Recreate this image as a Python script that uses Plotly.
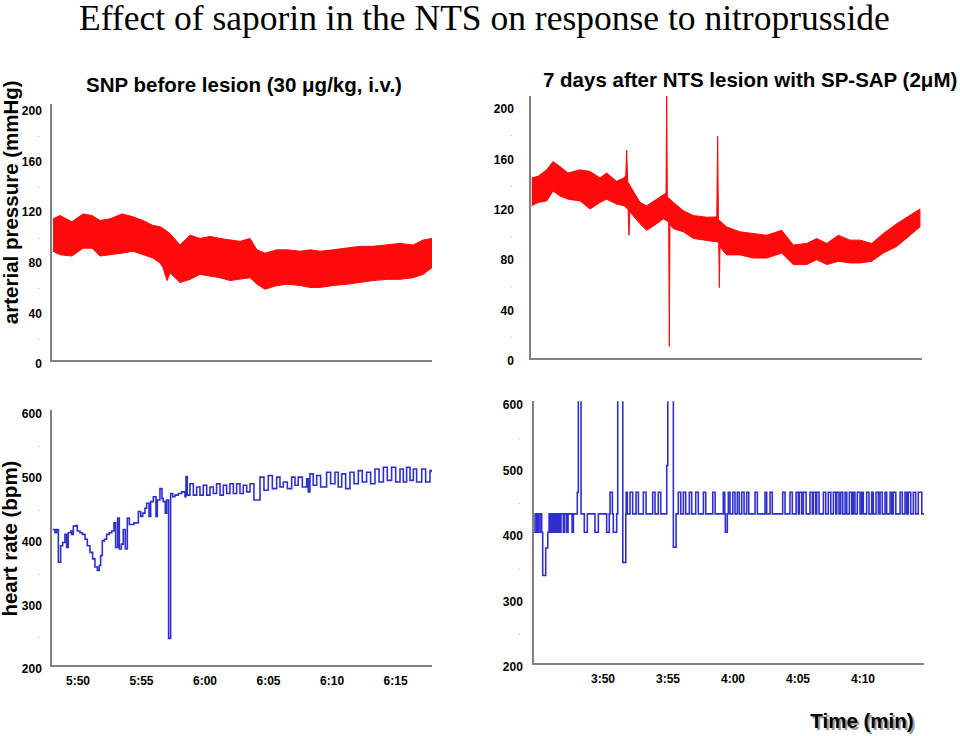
import plotly.graph_objects as go

# ---------------- DATA (time in minutes since 0:00) ----------------
# Arterial pressure before lesion: systolic / diastolic envelope (mmHg)
bp_pre_t = [348.03, 348.58, 349.52, 350.39, 351.10, 351.73, 352.52, 353.46, 354.33, 355.12,
            355.90, 356.46, 356.69, 357.01, 357.24, 358.03, 358.82, 359.60, 360.39, 361.18,
            361.97, 362.75, 363.54, 364.09, 364.72, 365.67, 366.46, 367.48, 368.27, 369.06,
            370.08, 371.18, 372.20, 373.23, 374.33, 375.35, 376.38, 377.16, 377.87]
bp_pre_sys = [111.6, 114.2, 109.3, 115.5, 114.2, 110.3, 111.6, 115.5, 113.2, 110.3,
              106.4, 105.4, 104.0, 101.6, 100.0, 90.9, 98.7, 96.1, 97.7, 96.1,
              94.8, 93.8, 96.1, 87.1, 84.5, 87.1, 87.1, 86.0, 87.1, 86.0,
              87.1, 88.4, 89.9, 89.9, 90.9, 92.2, 90.9, 94.8, 96.1]
bp_pre_dia = [86.0, 83.2, 82.2, 88.4, 88.4, 82.2, 83.2, 84.5, 86.0, 83.2,
              80.6, 76.7, 72.9, 62.8, 69.0, 61.2, 63.8, 67.7, 66.7, 65.1,
              62.8, 63.8, 65.1, 59.9, 56.0, 58.9, 59.9, 58.9, 57.4, 57.4,
              58.9, 59.9, 61.2, 62.8, 63.8, 63.8, 65.1, 67.7, 72.9]

# Arterial pressure 7 days after lesion (mmHg)
bp_post_t_sys = [224.52, 225.00, 225.67, 226.15, 226.69, 227.31, 228.23, 229.00, 229.77, 230.28,
                 231.05, 231.62, 231.75, 231.82, 231.90, 232.31, 232.85, 233.36, 234.13, 234.64,
                 234.85, 234.90, 234.95, 235.41, 236.18, 236.95, 237.98, 238.75, 238.82, 238.88,
                 239.52, 240.54, 241.56, 242.59, 243.75, 244.64, 245.67, 246.44, 247.21, 248.10,
                 249.00, 249.77, 250.67, 251.56, 252.59, 253.62, 254.38]
bp_post_sys = [143.0, 144.2, 149.4, 155.9, 152.0, 146.8, 149.4, 148.1, 143.0, 146.8,
               140.3, 143.0, 145.0, 165.0, 140.0, 132.5, 123.5, 120.9, 126.1, 130.0,
               131.0, 212.0, 128.0, 123.5, 117.0, 113.1, 111.8, 112.0, 175.9, 110.0,
               104.0, 100.2, 98.8, 97.5, 101.4, 89.7, 91.0, 94.9, 91.0, 97.5,
               93.6, 93.6, 91.0, 98.8, 106.6, 113.1, 118.3]
bp_post_t_dia = [224.52, 225.00, 225.67, 226.15, 226.69, 227.31, 228.23, 229.00, 229.77, 230.28,
                 231.05, 231.62, 231.93, 232.00, 232.07, 232.31, 232.85, 233.36, 234.13, 234.64,
                 235.05, 235.10, 235.15, 235.41, 236.18, 236.95, 237.98, 238.90, 238.95, 239.00,
                 239.52, 240.54, 241.56, 242.59, 243.75, 244.64, 245.67, 246.44, 247.21, 248.10,
                 249.00, 249.77, 250.67, 251.56, 252.59, 253.62, 254.38]
bp_post_dia = [120.9, 123.5, 124.7, 132.5, 128.6, 126.1, 124.7, 118.3, 123.5, 126.1,
               122.2, 120.9, 118.0, 97.5, 116.0, 113.1, 106.6, 101.4, 106.6, 110.5,
               108.0, 9.3, 106.0, 102.7, 100.2, 94.9, 93.6, 92.0, 56.0, 88.0,
               81.9, 81.9, 79.4, 79.4, 83.3, 74.2, 74.2, 78.1, 74.2, 76.8,
               75.5, 75.5, 76.8, 83.3, 88.5, 97.5, 104.0]

# Heart rate before lesion (bpm)
hr_pre_t = [348.00, 348.18, 348.31, 348.45, 348.63, 348.79, 348.97, 349.10, 349.23, 349.42,
            349.50, 349.63, 349.84, 349.94, 350.15, 350.34, 350.55, 350.73, 350.94, 351.15,
            351.33, 351.52, 351.67, 351.78, 351.91, 352.07, 352.25, 352.46, 352.65, 352.83,
            352.96, 353.12, 353.25, 353.41, 353.56, 353.72, 353.88, 354.04, 354.40, 354.75,
            354.93, 355.09, 355.27, 355.40, 355.59, 355.72, 355.93, 356.14, 356.24, 356.45,
            356.61, 356.71, 356.87, 356.98, 357.13, 357.29, 357.45, 357.63, 357.89, 358.16,
            358.42, 358.50, 358.60, 358.81, 359.08, 359.34, 359.60, 359.86, 360.13, 360.39,
            360.65, 360.91, 361.18, 361.44, 361.70, 361.96, 362.23, 362.49, 362.75, 363.01,
            363.28, 363.54, 363.85, 364.33, 364.64, 364.98, 365.30, 365.64, 365.90, 366.16,
            366.48, 366.82, 367.08, 367.34, 367.66, 368.00, 368.13, 368.26, 368.52, 368.79,
            369.10, 369.57, 369.89, 370.23, 370.49, 370.76, 371.07, 371.41, 371.73, 372.07,
            372.38, 372.72, 373.04, 373.38, 373.70, 374.04, 374.35, 374.69, 375.01, 375.35,
            375.61, 375.87, 376.14, 376.40, 376.66, 377.06, 377.37, 377.71, 377.87]
hr_pre_v = [412.8, 407.7, 412.8, 361.5, 387.2, 392.3, 405.1, 384.6, 407.7, 410.3,
            405.1, 418.0, 419.0, 410.3, 407.7, 405.1, 397.4, 387.2, 376.9, 366.7,
            353.9, 348.7, 356.4, 371.8, 394.9, 397.4, 405.1, 407.7, 410.3, 423.1,
            384.6, 430.8, 382.1, 389.8, 412.8, 382.1, 430.8, 420.5, 423.1, 441.0,
            433.3, 438.5, 446.2, 453.9, 433.3, 456.4, 464.1, 433.3, 459.0, 476.9,
            461.5, 456.4, 438.5, 459.0, 242.0, 469.2, 464.1, 466.7, 469.2, 471.8,
            464.1, 495.9, 466.7, 484.6, 466.7, 479.5, 466.7, 482.1, 466.7, 479.5,
            469.2, 484.6, 466.7, 482.1, 469.2, 484.6, 469.2, 484.6, 469.2, 482.1,
            471.8, 484.6, 459.0, 494.9, 474.4, 497.4, 476.9, 494.9, 479.5, 487.2,
            476.9, 494.9, 482.1, 494.9, 479.5, 492.3, 471.8, 500.0, 482.1, 497.4,
            479.5, 502.6, 484.6, 502.6, 479.5, 500.0, 476.9, 502.6, 484.6, 505.1,
            487.2, 502.6, 484.6, 507.7, 487.2, 510.3, 489.8, 510.3, 487.2, 507.7,
            487.2, 510.3, 489.8, 507.7, 487.2, 507.7, 487.2, 505.1, 502.6]

# Heart rate 7 days after lesion (bpm)
hr_post_t = [224.72, 224.77, 224.90, 225.02, 225.15, 225.28, 225.36, 225.59, 225.75, 225.85,
             225.92, 226.00, 226.05, 226.15, 226.25, 226.36, 226.48, 226.59, 226.67, 226.77,
             226.95, 227.05, 227.21, 227.31, 227.62, 227.72, 228.02, 228.10, 228.31, 228.56,
             228.79, 229.38, 229.64, 230.28, 230.48, 230.54, 230.72, 230.79, 231.05, 231.13,
             231.52, 231.75, 231.78, 231.87, 232.08, 232.28, 232.54, 232.72, 233.10, 233.31,
             233.82, 234.00, 234.25, 234.44, 234.90, 234.98, 235.41, 235.62, 235.79, 235.98,
             236.18, 236.36, 236.64, 236.82, 237.13, 237.33, 237.72, 237.90, 238.44, 238.62,
             239.25, 239.36, 239.41, 239.56, 239.64, 239.77, 239.98, 240.15, 240.33, 240.48,
             240.67, 240.85, 241.05, 241.21, 241.69, 241.87, 242.46, 242.59, 242.85, 243.02,
             243.82, 244.00, 244.38, 244.56, 244.85, 245.02, 245.10, 245.28, 245.41, 245.62,
             245.92, 246.10, 246.18, 246.36, 246.44, 246.62, 246.95, 247.13, 247.33, 247.52,
             247.72, 247.90, 247.98, 248.15, 248.28, 248.44, 248.62, 248.75, 248.95, 249.13,
             249.25, 249.38, 249.56, 249.77, 249.90, 250.02, 250.28, 250.46, 250.67, 250.79,
             251.00, 251.18, 251.31, 251.48, 251.69, 251.82, 252.08, 252.21, 252.33, 252.52,
             252.85, 253.02, 253.23, 253.36, 253.48, 253.67, 253.87, 254.05, 254.25, 254.52,
             254.69]
hr_post_v = [428, 400, 428, 400, 428, 400, 334, 376, 400, 428,
             400, 428, 400, 428, 400, 428, 400, 428, 400, 428,
             400, 428, 400, 428, 400, 428, 461, 620, 428, 400,
             428, 400, 428, 400, 428, 461, 428, 400, 428, 620,
             354, 428, 461, 428, 461, 428, 461, 428, 461, 428,
             461, 428, 461, 428, 502, 620, 377, 428, 461, 428,
             461, 428, 461, 428, 461, 428, 461, 428, 461, 428,
             461, 428, 400, 428, 461, 428, 461, 428, 461, 428,
             461, 428, 461, 428, 461, 428, 461, 428, 461, 428,
             461, 428, 461, 428, 461, 428, 461, 428, 461, 428,
             461, 428, 461, 428, 461, 428, 461, 428, 461, 428,
             461, 428, 461, 428, 461, 428, 461, 428, 461, 428,
             461, 428, 461, 428, 461, 428, 461, 428, 461, 428,
             461, 428, 461, 428, 461, 428, 461, 428, 461, 428,
             461, 428, 461, 428, 461, 428, 461, 428, 461, 428,
             428]

bp_ticks = [0, 40, 80, 120, 160, 200]
bp_minor = [20, 60, 100, 140, 180]
hr_ticks = [200, 300, 400, 500, 600]
hr_minor = [250, 350, 450, 550]
pre_tick_vals = [350, 355, 360, 365, 370, 375]
pre_tick_text = ["5:50", "5:55", "6:00", "6:05", "6:10", "6:15"]
post_tick_vals = [230, 235, 240, 245, 250]
post_tick_text = ["3:50", "3:55", "4:00", "4:05", "4:10"]

title = "Effect of saporin in the NTS on response to nitroprusside"
sub_left = "SNP before lesion (30 \u03bcg/kg, i.v.)"
sub_right = "7 days after NTS lesion with SP-SAP (2\u03bcM)"
ylab_bp = "arterial pressure (mmHg)"
ylab_hr = "heart rate (bpm)"
xlab = "Time (min)"

# ---------------- FIGURE ----------------
W, H = 960, 736
RED = "#ff0a0a"
BLUE = "#2f2fd0"
AX = "#808080"
SANS = "Liberation Sans, Arial, sans-serif"

fig = go.Figure()

fig.add_trace(go.Scatter(
    x=bp_pre_t + bp_pre_t[::-1], y=bp_pre_sys + bp_pre_dia[::-1],
    mode="lines", fill="toself", fillcolor=RED, line=dict(color=RED, width=1),
    xaxis="x", yaxis="y", hoverinfo="skip", showlegend=False))
fig.add_trace(go.Scatter(
    x=bp_post_t_sys + bp_post_t_dia[::-1], y=bp_post_sys + bp_post_dia[::-1],
    mode="lines", fill="toself", fillcolor=RED, line=dict(color=RED, width=1),
    xaxis="x2", yaxis="y2", hoverinfo="skip", showlegend=False))
fig.add_trace(go.Scatter(
    x=hr_pre_t, y=hr_pre_v, mode="lines", line=dict(color=BLUE, width=1.6, shape="hv"),
    xaxis="x3", yaxis="y3", hoverinfo="skip", showlegend=False))
fig.add_trace(go.Scatter(
    x=hr_post_t, y=hr_post_v, mode="lines", line=dict(color=BLUE, width=1.6, shape="hv"),
    xaxis="x4", yaxis="y4", hoverinfo="skip", showlegend=False))

# "Time (min)" label near the lower edge (grey shadow + black text),
# drawn on a hidden full-page overlay axis measured in page pixels.
fig.add_trace(go.Scatter(
    x=[864], y=[735.5], mode="text", text=[xlab], cliponaxis=False,
    textfont=dict(family=SANS, size=20.5, color="#9a9a9a", weight="bold"),
    xaxis="x5", yaxis="y5", hoverinfo="skip", showlegend=False))
fig.add_trace(go.Scatter(
    x=[862], y=[734], mode="text", text=[xlab], cliponaxis=False,
    textfont=dict(family=SANS, size=20.5, color="black", weight="bold"),
    xaxis="x5", yaxis="y5", hoverinfo="skip", showlegend=False))

tickfont = dict(family=SANS, size=12, color="black", weight="bold")


def px_x(p):
    return p / W


def px_y(p):
    return 1 - p / H


def yax(dom_top, dom_bot, rng, ticks, anchor, standoff, shift):
    return dict(domain=[px_y(dom_bot), px_y(dom_top)], range=rng, anchor=anchor,
                showline=True, linecolor=AX, linewidth=1.5, showgrid=False, zeroline=False,
                ticks="", tickvals=ticks, ticktext=[str(t) for t in ticks], tickfont=tickfont,
                ticklabelstandoff=standoff, ticklabelshift=shift, fixedrange=True)


def xax(left, right, rng, anchor, vals=None, text=None):
    d = dict(domain=[px_x(left), px_x(right)], range=rng, anchor=anchor,
             showline=True, linecolor=AX, linewidth=1.5, showgrid=False, zeroline=False,
             ticks="", fixedrange=True)
    if vals is None:
        d["showticklabels"] = False
    else:
        d.update(tickvals=vals, ticktext=text, tickfont=tickfont, ticklabelstandoff=4)
    return d


fig.update_layout(
    width=W, height=H, margin=dict(l=0, r=0, t=0, b=0),
    paper_bgcolor="white", plot_bgcolor="rgba(0,0,0,0)", showlegend=False,
    xaxis=xax(52, 432, [347.95, 377.87], "y"),
    yaxis=yax(103, 364, [0, 202.3], bp_ticks, "x", 6, 4),
    xaxis2=xax(531, 922, [224.46, 254.54], "y2"),
    yaxis2=yax(95, 362, [0, 207.8], bp_ticks, "x2", 13, 3),
    xaxis3=xax(52, 432, [347.95, 377.87], "y3", pre_tick_vals, pre_tick_text),
    yaxis3=yax(415, 675, [200, 600], hr_ticks, "x3", 6, 4),
    xaxis4=xax(534, 924, [224.69, 254.69], "y4", post_tick_vals, post_tick_text),
    yaxis4=yax(406, 673, [200, 600], hr_ticks, "x4", 7, 4),
    xaxis5=dict(domain=[0, 1], range=[0, W], anchor="y5", visible=False, fixedrange=True),
    yaxis5=dict(domain=[0, 1], range=[H, 0], anchor="x5", visible=False, fixedrange=True),
)

ann = []
ann.append(dict(text=title, x=px_x(484), y=px_y(15), xref="paper", yref="paper",
                xanchor="center", yanchor="middle", showarrow=False,
                font=dict(family="Liberation Serif, Times New Roman, serif", size=35.5, color="black")))
ann.append(dict(text=sub_left, x=px_x(244), y=px_y(83), xref="paper", yref="paper",
                xanchor="center", yanchor="middle", showarrow=False,
                font=dict(family=SANS, size=20.5, color="black", weight="bold")))
ann.append(dict(text=sub_right, x=px_x(750), y=px_y(78), xref="paper", yref="paper",
                xanchor="center", yanchor="middle", showarrow=False,
                font=dict(family=SANS, size=20.5, color="black", weight="bold")))
ann.append(dict(text=ylab_bp, x=px_x(10), y=px_y(203), xref="paper", yref="paper",
                xanchor="center", yanchor="middle", showarrow=False, textangle=-90,
                font=dict(family=SANS, size=20.5, color="black", weight="bold")))
ann.append(dict(text=ylab_hr, x=px_x(10), y=px_y(546), xref="paper", yref="paper",
                xanchor="center", yanchor="middle", showarrow=False, textangle=-90,
                font=dict(family=SANS, size=20.5, color="black", weight="bold")))

# minor tick dots beside the y axes
for yref, xpix, vals in [("y", 38, bp_minor), ("y2", 511, bp_minor),
                         ("y3", 38, hr_minor), ("y4", 519, hr_minor)]:
    for v in vals:
        ann.append(dict(text="\u00b7", x=px_x(xpix), y=v, xref="paper", yref=yref,
                        xanchor="center", yanchor="middle", showarrow=False, yshift=-4,
                        font=dict(family=SANS, size=9, color="#a0a0a0")))

fig.update_layout(annotations=ann)
fig.write_html(
    "out.html",
    config={"displayModeBar": False},
    post_script=(
        "document.documentElement.style.margin='0';"
        "document.documentElement.style.overflow='hidden';"
        "document.documentElement.style.height='736px';"
        "document.body.style.margin='0';"
        "document.body.style.overflow='hidden';"
        "document.body.style.height='736px';"
        "var gd=document.getElementById('{plot_id}');"
        "gd.style.overflow='hidden';"
        "var sc=gd.querySelector('.svg-container'); if(sc){sc.style.overflow='hidden';}"
    ),
)
